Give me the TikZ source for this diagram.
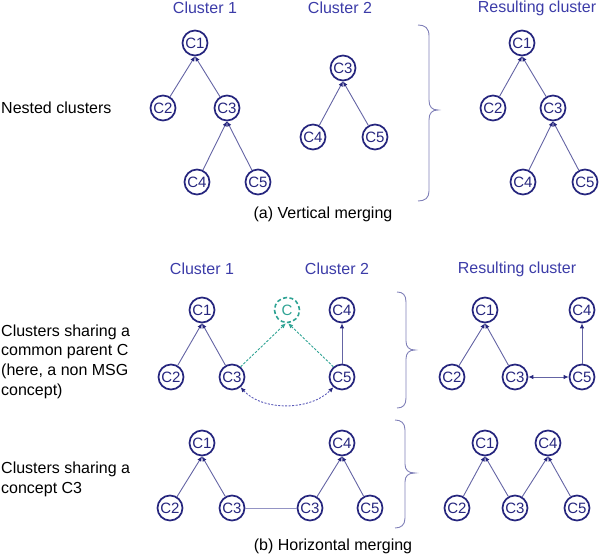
\documentclass[tikz,border=0pt]{standalone}
\usepackage{fontspec}
\setmainfont{Liberation Sans}
\usetikzlibrary{arrows.meta}
\definecolor{navy}{HTML}{26267E}
\definecolor{ttl}{HTML}{3C3CA8}
\definecolor{edg}{HTML}{6464A4}
\definecolor{brc}{HTML}{8080B8}
\definecolor{tealc}{HTML}{2FA394}
\definecolor{dotc}{HTML}{5A5AB8}
\definecolor{plainc}{HTML}{9494C4}
\tikzset{
  cnode/.style={circle,draw=navy,line width=1.7pt,minimum size=25pt,inner sep=0pt,text=navy,font=\fontsize{15}{15}\selectfont},
  cdash/.style={circle,draw=tealc,line width=1.6pt,dash pattern=on 4pt off 2.5pt,minimum size=25pt,inner sep=0pt,text=tealc,font=\fontsize{15}{15}\selectfont},
  title/.style={text=ttl,font=\fontsize{16}{16}\selectfont,inner sep=0pt},
  lbl/.style={text=black,font=\fontsize{16}{19.7}\selectfont,inner sep=0pt,align=left,anchor=west},
  captext/.style={text=black,font=\fontsize{16}{16}\selectfont,inner sep=0pt},
  edge/.style={draw=edg,line width=0.9pt,-{Latex[length=5pt,width=4.5pt,color=navy]}},
  dedge/.style={draw=edg,line width=0.9pt,{Latex[length=5pt,width=4.5pt,color=navy]}-{Latex[length=5pt,width=4.5pt,color=navy]}},
  tedge/.style={draw=tealc,line width=0.9pt,dash pattern=on 2.5pt off 1.5pt,-{Latex[length=5pt,width=4.5pt]}},
  dotedge/.style={draw=dotc,line width=0.9pt,dash pattern=on 2pt off 1.5pt,{Latex[length=5pt,width=4.5pt,color=navy]}-{Latex[length=5pt,width=4.5pt,color=navy]}},
  plain/.style={draw=plainc,line width=0.9pt},
  brace/.style={draw=brc,line width=0.9pt}
}
\begin{document}
\begin{tikzpicture}[x=1pt,y=-1pt]
\useasboundingbox (0,0) rectangle (600,556);
% ---------- (a) vertical merging ----------
\node[title] (t1) at (205,8) {Cluster 1};
\node[title] (t2) at (340,8) {Cluster 2};
\node[title] (t3) at (537,8) {Resulting cluster};
\node[lbl] (l1) at (1,108) {Nested clusters};

\node[cnode] (a1) at (195,43) {C1};
\node[cnode] (a2) at (163,108) {C2};
\node[cnode] (a3) at (227,108) {C3};
\node[cnode] (a4) at (197,182) {C4};
\node[cnode] (a5) at (258,182) {C5};
\draw[edge] (a2) -- (a1.south);
\draw[edge] (a3) -- (a1.south);
\draw[edge] (a4) -- (a3.south);
\draw[edge] (a5) -- (a3.south);

\node[cnode] (b3) at (343,68) {C3};
\node[cnode] (b4) at (313,137) {C4};
\node[cnode] (b5) at (375,137) {C5};
\draw[edge] (b4) -- (b3.south);
\draw[edge] (b5) -- (b3.south);

\draw[brace] (418,25) .. controls (425,25) and (429,28) .. (429,36) -- (429,100) .. controls (429,107) and (432,110) .. (438,110) .. controls (432,110) and (429,113) .. (429,120) -- (429,191) .. controls (429,198) and (425,201) .. (418,201);

\node[cnode] (r1) at (522,43) {C1};
\node[cnode] (r2) at (493,108) {C2};
\node[cnode] (r3) at (553,108) {C3};
\node[cnode] (r4) at (523,182) {C4};
\node[cnode] (r5) at (585,182) {C5};
\draw[edge] (r2) -- (r1.south);
\draw[edge] (r3) -- (r1.south);
\draw[edge] (r4) -- (r3.south);
\draw[edge] (r5) -- (r3.south);

\node[captext] (ca) at (323,214) {(a) Vertical merging};

% ---------- (b) horizontal merging: common parent ----------
\node[title] (t4) at (202,269) {Cluster 1};
\node[title] (t5) at (337,269) {Cluster 2};
\node[title] (t6) at (517,269) {Resulting cluster};
\node[lbl] (l2) at (1,361.5) {Clusters sharing a\\common parent C\\(here, a non MSG\\concept)};

\node[cnode] (m1) at (202,310) {C1};
\node[cnode] (m2) at (171,377) {C2};
\node[cnode] (m3) at (232,377) {C3};
\node[cdash] (mc) at (287,310) {C};
\node[cnode] (m4) at (342,310) {C4};
\node[cnode] (m5) at (342,377) {C5};
\draw[edge] (m2) -- (m1.south);
\draw[edge] (m3) -- (m1.south);
\draw[edge] (m5) -- (m4);
\draw[tedge] (m3.50) -- (mc.-95);
\draw[tedge] (m5.130) -- (mc.-85);
\draw[dotedge] (m3.-50) .. controls (262,411) and (310,411) .. (m5.-130);

\draw[brace] (397,292) .. controls (403,292) and (406,295) .. (406,302) -- (406,341) .. controls (406,347) and (409,350) .. (415,350) .. controls (409,350) and (406,353) .. (406,359) -- (406,398) .. controls (406,405) and (403,408) .. (397,408);

\node[cnode] (n1) at (485,310) {C1};
\node[cnode] (n2) at (452,377) {C2};
\node[cnode] (n3) at (515,377) {C3};
\node[cnode] (n4) at (582,310) {C4};
\node[cnode] (n5) at (582,377) {C5};
\draw[edge] (n2) -- (n1.south);
\draw[edge] (n3) -- (n1.south);
\draw[edge] (n5) -- (n4);
\draw[dedge] (n3) -- (n5);

% ---------- (b) horizontal merging: shared concept ----------
\node[lbl] (l3) at (1,479.5) {Clusters sharing a\\concept C3};

\node[cnode] (p1) at (202,443) {C1};
\node[cnode] (p2) at (170,508) {C2};
\node[cnode] (p3) at (232,508) {C3};
\draw[edge] (p2) -- (p1.south);
\draw[edge] (p3) -- (p1.south);

\node[cnode] (q4) at (342,443) {C4};
\node[cnode] (q3) at (310,508) {C3};
\node[cnode] (q5) at (370,508) {C5};
\draw[edge] (q3) -- (q4.south);
\draw[edge] (q5) -- (q4.south);
\draw[plain] (p3) -- (q3);

\draw[brace] (395,420) .. controls (401,420) and (405,423) .. (405,430) -- (405,464) .. controls (405,470) and (408,473) .. (415,473) .. controls (408,473) and (405,476) .. (405,482) -- (405,518) .. controls (405,525) and (401,528) .. (395,528);

\node[cnode] (s1) at (485,443) {C1};
\node[cnode] (s4) at (548,443) {C4};
\node[cnode] (s2) at (457,508) {C2};
\node[cnode] (s3) at (515,508) {C3};
\node[cnode] (s5) at (577,508) {C5};
\draw[edge] (s2) -- (s1.south);
\draw[edge] (s3) -- (s1.south);
\draw[edge] (s3) -- (s4.south);
\draw[edge] (s5) -- (s4.south);

\node[captext] (cb) at (333,546) {(b) Horizontal merging};
\end{tikzpicture}
\end{document}
